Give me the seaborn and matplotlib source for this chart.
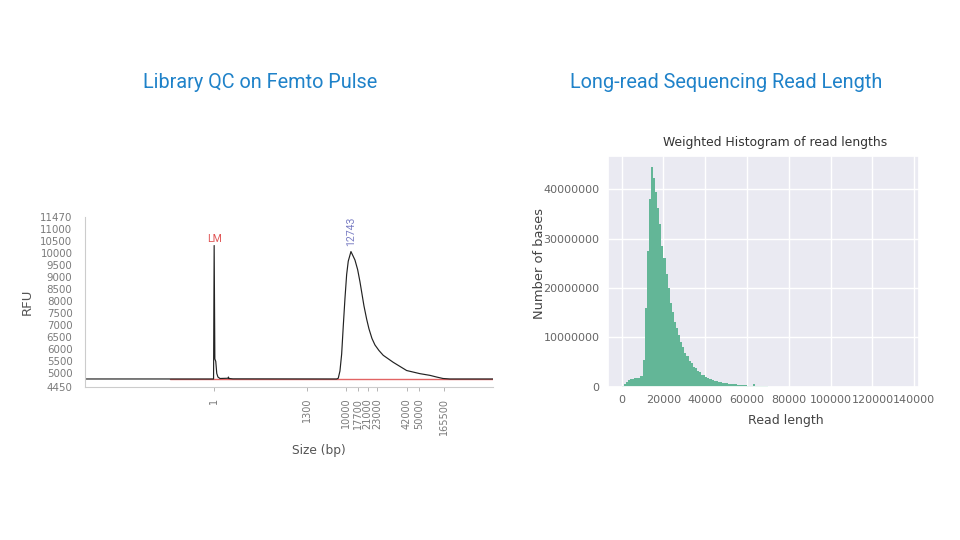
import numpy as np
import pandas as pd
import matplotlib
matplotlib.use("Agg")
import matplotlib.pyplot as plt
import seaborn as sns

# --- Femto Pulse electropherogram (x = migration position, y = RFU) ---
trace_pos = [0, 128.6, 129.2, 129.9, 130.8, 131.8, 133.0, 135.0, 143.0, 143.5, 144.0, 148.0,
             251.7, 253.3, 255.0, 256.7, 258.3, 260.0, 261.7, 263.3, 266.0, 268.3, 270.0,
             272.7, 275.0, 277.0, 279.0, 281.7, 284.0, 287.0, 290.0, 294.0, 298.3, 308.3,
             321.7, 335.0, 345.0, 351.7, 358.0, 365.0, 408.3]
trace_rfu = [4770, 4770, 10300, 5600, 5500, 5000, 4850, 4790, 4800, 4850, 4790, 4775,
             4770, 4800, 5100, 5800, 6950, 8100, 9100, 9650, 10050, 9850, 9700,
             9300, 8800, 8300, 7800, 7250, 6850, 6450, 6180, 5950, 5750, 5460,
             5120, 4990, 4920, 4850, 4790, 4770, 4770]
baseline_pos = [85, 408.3]
baseline_rfu = [4760, 4760]

size_tick_pos = [129.3, 221.7, 261.0, 273.5, 282.6, 291.8, 321.7, 334.3, 359.0]
size_tick_labels = ["1", "1300", "10000", "17700", "21000", "23000", "42000", "50000", "165500"]
rfu_ticks = [4450, 5000, 5500, 6000, 6500, 7000, 7500, 8000, 8500, 9000,
             9500, 10000, 10500, 11000, 11470]

lm_pos, lm_rfu = 129.2, 10380
peak_pos, peak_rfu, peak_label = 266.0, 10300, "12743"

# --- Weighted read-length histogram (1 kb bins, bases per bin) ---
bin_left = list(range(0, 70000, 1000))
bases = [0.2e6, 0.6e6, 1.0e6, 1.3e6, 1.5e6, 1.6e6, 1.7e6, 1.7e6, 1.8e6, 2.1e6,
         5.5e6, 16.0e6, 27.5e6, 38.0e6, 44.5e6, 42.3e6, 39.5e6, 36.2e6, 33.0e6, 28.6e6,
         26.0e6, 22.8e6, 20.1e6, 16.9e6, 15.2e6, 13.1e6, 11.9e6, 10.4e6, 9.0e6, 8.1e6,
         6.8e6, 6.3e6, 5.2e6, 4.9e6, 4.0e6, 3.7e6, 3.1e6, 2.9e6, 2.4e6, 2.3e6,
         2.0e6, 1.8e6, 1.5e6, 1.45e6, 1.2e6, 1.1e6, 1.0e6, 0.9e6, 0.8e6, 0.75e6,
         0.7e6, 0.6e6, 0.55e6, 0.5e6, 0.45e6, 0.4e6, 0.35e6, 0.33e6, 0.3e6, 0.26e6,
         0.22e6, 0.2e6, 0.18e6, 0.5e6, 0.15e6, 0.12e6, 0.1e6, 0.08e6, 0.06e6, 0.05e6]

blue = "#1f82c9"

sns.set_theme(style="darkgrid")
plt.rcParams["font.family"] = ["Roboto", "DejaVu Sans"]

fig = plt.figure(figsize=(9.6, 5.4), dpi=100)

# ---------------- left panel ----------------
with sns.axes_style("white", {"axes.edgecolor": "#cccccc"}):
    ax1 = fig.add_axes([0.0885, 0.2839, 0.4253, 0.3137])
    ax1.patch.set_alpha(0)

df_base = pd.DataFrame({"pos": baseline_pos, "rfu": baseline_rfu})
sns.lineplot(data=df_base, x="pos", y="rfu", color="#e26464", linewidth=1.0,
             sort=False, estimator=None, ax=ax1)
df_trace = pd.DataFrame({"pos": trace_pos, "rfu": trace_rfu})
sns.lineplot(data=df_trace, x="pos", y="rfu", color="#222222", linewidth=0.85,
             sort=False, estimator=None, ax=ax1)

ax1.set_xlim(0, 408.3)
ax1.set_ylim(4450, 11470)
ax1.set_yticks(rfu_ticks)
ax1.set_yticklabels([str(t) for t in rfu_ticks], fontsize=7.4, color="#7a7a7a")
ax1.set_xticks(size_tick_pos)
ax1.set_xticklabels(size_tick_labels, rotation=90, fontsize=7.0, color="#7a7a7a")
ax1.tick_params(axis="x", length=3, width=0.6, color="#aaaaaa", pad=5, bottom=True)
ax1.tick_params(axis="y", length=0, pad=9)
for side in ["top", "right"]:
    ax1.spines[side].set_visible(False)
for side in ["left", "bottom"]:
    ax1.spines[side].set_color("#cccccc")
    ax1.spines[side].set_linewidth(0.8)
ax1.set_ylabel("RFU", fontsize=9.6, color="#555555")
ax1.yaxis.set_label_coords(-0.125, 0.5)
ax1.set_xlabel("Size (bp)", fontsize=8.8, color="#555555")
ax1.xaxis.set_label_coords(0.573, -0.34)
ax1.text(lm_pos, lm_rfu, "LM", color="#e05555", fontsize=7.6, ha="center", va="bottom")
ax1.text(peak_pos, peak_rfu, peak_label, color="#7b7fc4", fontsize=7.6,
         ha="center", va="bottom", rotation=90)

# ---------------- right panel ----------------
with sns.axes_style("darkgrid"):
    ax2 = fig.add_axes([0.6333, 0.2839, 0.3243, 0.4272])

centers = [b + 500 for b in bin_left]
edges = bin_left + [bin_left[-1] + 1000]
sns.histplot(x=centers, weights=bases, bins=edges, color="#63b697", alpha=1,
             linewidth=0, ax=ax2)
ax2.set_xlim(-6550, 142400)
ax2.set_ylim(0, 46.75e6)
ax2.set_xticks(list(range(0, 140001, 20000)))
ax2.ticklabel_format(style="plain", axis="both", useOffset=False)
ax2.tick_params(axis="both", labelsize=8, labelcolor="#666666", length=0, pad=6)
ax2.set_xlabel("Read length", fontsize=9, color="#444444")
ax2.xaxis.set_label_coords(0.572, -0.118)
ax2.set_ylabel("Number of bases", fontsize=9.4, color="#444444")
ax2.yaxis.set_label_coords(-0.2, 0.536)
ax2.set_title("Weighted Histogram of read lengths", fontsize=8.9, color="#333333",
              x=0.536, pad=7)

# ---------------- panel headings ----------------
fig.text(260 / 960, 1 - 82 / 540, "Library QC on Femto Pulse", color=blue,
         fontsize=14.3, ha="center", va="center")
fig.text(726 / 960, 1 - 82 / 540, "Long-read Sequencing Read Length", color=blue,
         fontsize=14.3, ha="center", va="center")

fig.savefig("out.png", dpi=100, facecolor="white")
